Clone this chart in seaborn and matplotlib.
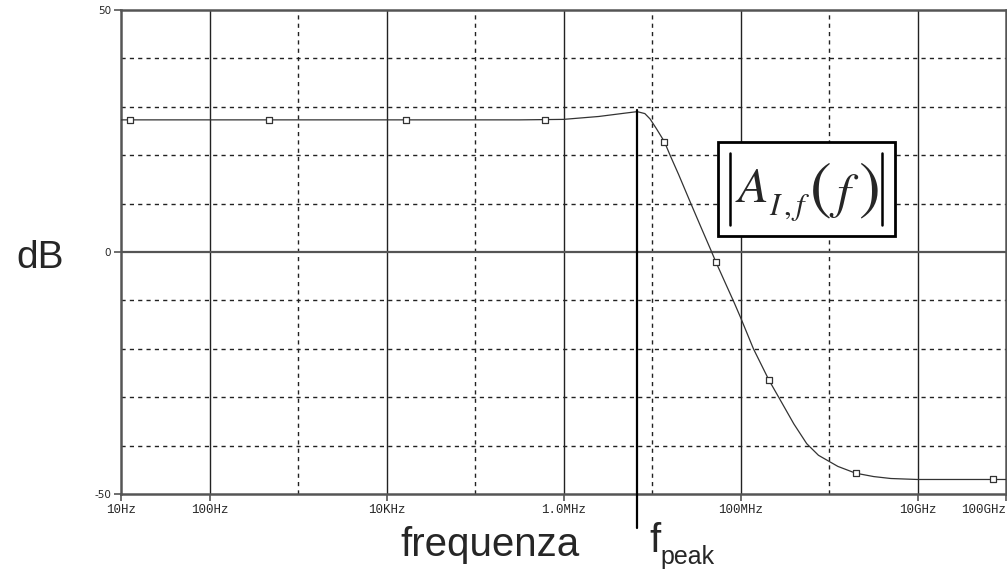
import numpy as np
import pandas as pd
import matplotlib
matplotlib.use("Agg")
import matplotlib.pyplot as plt
from matplotlib.patches import Rectangle
from matplotlib.lines import Line2D
import seaborn as sns

# Frequency response |A_I,f(f)| in dB
freq_hz = [10, 1e5, 3.2e5, 1e6, 2.5e6, 5e6, 6.8e6, 8.3e6, 9.5e6, 1.12e7,
           1.38e7, 1.6e7, 2.0e7, 2.75e7, 3.6e7, 4.6e7, 5.25e7, 6.4e7, 8.5e7,
           1.0e8, 1.4e8, 2.1e8, 2.7e8, 4.0e8, 5.6e8, 7.6e8, 1.26e9, 2.0e9,
           3.2e9, 5.0e9, 1e10, 1e11]
gain_db = [27.3, 27.3, 27.3, 27.4, 28.0, 28.7, 29.0, 28.6, 27.5, 25.5,
           22.8, 20.0, 16.0, 10.0, 5.0, 0.5, -2.0, -5.5, -10.5,
           -13.5, -20.0, -26.5, -30.0, -35.5, -39.6, -42.0, -44.3, -45.7,
           -46.4, -46.8, -47.0, -47.0]

# Trace markers
marker_hz = [12.6, 468, 1.66e4, 6.2e5, 1.38e7, 5.25e7, 2.1e8, 2.0e9, 7.2e10]
marker_db = [27.3, 27.3, 27.3, 27.3, 22.8, -2.0, -26.5, -45.7, -47.0]

# Peak frequency
f_peak_hz = 6.8e6
f_peak_db = 29.0

# Axis ticks
xtick_hz = [10, 100, 1e4, 1e6, 1e8, 1e10, 1e11]
xtick_labels = ["10Hz", "100Hz", "10KHz", "1.0MHz", "100MHz", "10GHz", "100GHz"]
x_major_grid = [100, 1e4, 1e6, 1e8, 1e10]
x_minor_grid = [1e3, 1e5, 1e7, 1e9]
ytick_vals = [-50, 0, 50]
y_dashed_grid = [-40, -30, -20, -10, 10, 20, 30, 40]

W, H = 1007, 573


def fx(x):
    return x / W


def fy(y):
    return 1 - y / H


sns.set_style("white")
plt.rcParams["mathtext.fontset"] = "stix"

fig = plt.figure(figsize=(W / 100, H / 100), dpi=100)
ax = fig.add_axes([fx(121), fy(494), 885 / W, 484 / H])
ax.set_xscale("log")
ax.set_xlim(10, 1e11)
ax.set_ylim(-50, 50)

# grid
for xv in x_major_grid:
    ax.axvline(xv, color="#222222", lw=1.0, zorder=1)
for xv in x_minor_grid:
    ax.axvline(xv, color="#222222", lw=1.0, ls=(0, (3, 3)), zorder=1)
ax.axhline(0, color="#555555", lw=1.6, zorder=1)
for yv in y_dashed_grid:
    ax.axhline(yv, color="#222222", lw=1.0, ls=(0, (3, 3)), zorder=1)

df = pd.DataFrame({"f": freq_hz, "db": gain_db})
sns.lineplot(data=df, x="f", y="db", ax=ax, color="#333333", lw=0.9, zorder=3)
mk = pd.DataFrame({"f": marker_hz, "db": marker_db})
sns.scatterplot(data=mk, x="f", y="db", ax=ax, marker="s", s=22,
                facecolor="white", edgecolor="#333333", linewidth=0.9, zorder=4)

# peak marker line
ax.plot([f_peak_hz, f_peak_hz], [f_peak_db + 0.3, -57], color="black", lw=1.6,
        clip_on=False, zorder=5)

ax.set_xticks(xtick_hz)
ax.set_xticklabels(xtick_labels, family="Liberation Mono", fontsize=9)
ax.get_xticklabels()[-1].set_horizontalalignment("right")
ax.xaxis.set_minor_locator(matplotlib.ticker.NullLocator())
ax.set_yticks(ytick_vals)
ax.set_yticklabels([str(v) for v in ytick_vals], fontsize=7.5, family="DejaVu Sans")
ax.tick_params(axis="both", direction="out", length=5, width=1.2, color="#555555",
               bottom=True, left=True, pad=2)
ax.set_xlabel("")
ax.set_ylabel("")
for s in ax.spines.values():
    s.set_color("#555555")
    s.set_linewidth(1.8)

# boxed formula |A_I,f(f)|
box = Rectangle((fx(718), fy(236)), (895 - 718) / W, (236 - 142) / H,
                transform=fig.transFigure, fc="white", ec="black", lw=2, zorder=10)
fig.add_artist(box)
for bx in (730, 882):
    fig.add_artist(Line2D([fx(bx), fx(bx)], [fy(153), fy(225)], color="black",
                          lw=1.8, transform=fig.transFigure, zorder=11))
fig.text(fx(735), fy(202), r"$A$", fontsize=36, ha="left", va="baseline", zorder=11)
fig.text(fx(769), fy(215), r"$I\,,f$", fontsize=22, ha="left", va="baseline",
         zorder=11)
fig.text(fx(820), fy(189), r"$($", fontsize=47, ha="center", va="center", zorder=11)
fig.text(fx(868), fy(189), r"$)$", fontsize=47, ha="center", va="center", zorder=11)
fig.text(fx(844), fy(196), r"$f$", fontsize=36, ha="center", va="center", zorder=11)

fig.text(fx(40), fy(258), "dB", family="Liberation Sans", fontsize=28,
         ha="center", va="center")
fig.text(fx(490), fy(545), "frequenza", family="Liberation Sans",
         fontsize=29, ha="center", va="center")
fig.text(fx(649), fy(552), "f", family="Liberation Sans", fontsize=29,
         ha="left", va="baseline")
fig.text(fx(660), fy(564), "peak", family="Liberation Sans", fontsize=18,
         ha="left", va="baseline")

fig.savefig("out.png", dpi=100)
